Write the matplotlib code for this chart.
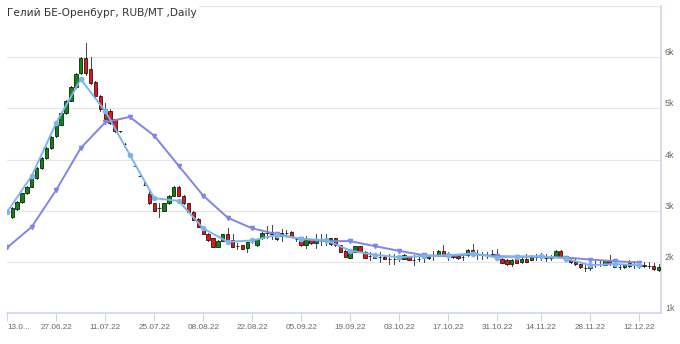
import pandas as pd
import matplotlib
matplotlib.use("Agg")
import matplotlib.pyplot as plt
from matplotlib.patches import Rectangle

# Trading days (13.06.22 .. 16.12.22, 04.11.22 was a holiday)
days = pd.bdate_range("2022-06-13", "2022-12-16")
days = days[days != pd.Timestamp("2022-11-04")]

# Daily candles start on 14.06.22
opens = [2890, 3030, 3180, 3345, 3475, 3640, 3835, 4030, 4230, 4455,
         4685, 4915, 5155, 5420, 5700, 5975, 5765, 5520, 5245, 4980,
         4945, 4785, 4555, 4315, 4100, 3880, 3690, 3510, 3335, 3150,
         3060, 3000, 3150, 3300, 3475, 3300, 3150, 2985, 2845, 2695,
         2560, 2465, 2300, 2420, 2560, 2430, 2320, 2330, 2270, 2415,
         2330, 2465, 2565, 2560, 2565, 2520, 2580, 2595, 2450, 2430,
         2335, 2430, 2380, 2430, 2430, 2355, 2465, 2335, 2220, 2090,
         2205, 2315, 2205, 2120, 2170, 2110, 2110, 2070, 2070, 2070,
         2070, 2120, 2050, 2070, 2075, 2075, 2135, 2135, 2220, 2135,
         2120, 2120, 2100, 2140, 2245, 2170, 2135, 2135, 2135, 2170,
         2070, 2050, 1960, 2070, 2000, 2070, 2050, 2100, 2110, 2090,
         2090, 2105, 2220, 2120, 2040, 2005, 1960, 1880, 1880, 1960,
         1960, 1950, 2040, 1960, 1900, 1900, 1980, 1950, 1940, 1950,
         1930, 1920, 1850]
highs = [3070, 3200, 3360, 3490, 3660, 3850, 4050, 4250, 4460, 4700,
         4930, 5170, 5440, 5700, 6000, 6275, 6000, 5540, 5260, 5100,
         4980, 4800, 4565, 4325, 4110, 3890, 3700, 3560, 3410, 3160,
         3160, 3160, 3310, 3490, 3490, 3310, 3160, 2995, 2855, 2705,
         2570, 2475, 2440, 2560, 2670, 2560, 2380, 2345, 2400, 2480,
         2460, 2590, 2700, 2720, 2580, 2640, 2620, 2610, 2500, 2440,
         2520, 2450, 2560, 2560, 2560, 2470, 2475, 2345, 2230, 2210,
         2325, 2325, 2215, 2200, 2180, 2200, 2120, 2160, 2160, 2130,
         2160, 2130, 2140, 2140, 2140, 2145, 2220, 2230, 2330, 2200,
         2130, 2130, 2150, 2255, 2360, 2230, 2200, 2200, 2230, 2260,
         2080, 2060, 2060, 2140, 2120, 2160, 2150, 2170, 2180, 2160,
         2150, 2230, 2230, 2130, 2100, 2060, 1970, 1950, 1950, 2020,
         2040, 2050, 2150, 1970, 1960, 1970, 2040, 2030, 2020, 2010,
         2000, 1990, 1960]
lows = [2870, 3010, 3160, 3330, 3460, 3620, 3820, 4010, 4210, 4440,
        4670, 4900, 5140, 5400, 5680, 5650, 5480, 5230, 4960, 4700,
        4700, 4540, 4545, 4305, 4090, 3870, 3680, 3500, 3140, 2990,
        2880, 2990, 3140, 3290, 3290, 3140, 2975, 2815, 2680, 2550,
        2420, 2290, 2290, 2410, 2420, 2290, 2250, 2250, 2200, 2370,
        2320, 2455, 2480, 2460, 2440, 2410, 2560, 2490, 2420, 2325,
        2270, 2360, 2280, 2330, 2330, 2340, 2325, 2195, 2095, 2080,
        2195, 2195, 2080, 2040, 2080, 2000, 2060, 1970, 1970, 2020,
        2060, 2040, 1950, 2020, 2010, 2065, 2050, 2125, 2130, 2040,
        2085, 2070, 2050, 2130, 2160, 2060, 2070, 2080, 2125, 2095,
        1980, 1940, 1920, 1980, 1990, 2000, 2040, 2040, 2050, 2030,
        2040, 2095, 2095, 2030, 1990, 1950, 1880, 1830, 1840, 1900,
        1920, 1940, 1950, 1900, 1860, 1880, 1910, 1890, 1890, 1910,
        1880, 1850, 1820]
closes = [3050, 3180, 3345, 3475, 3640, 3835, 4030, 4230, 4445, 4685,
          4915, 5155, 5420, 5680, 5975, 5700, 5500, 5245, 4980, 4785,
          4720, 4555, 4555, 4315, 4100, 3880, 3690, 3510, 3150, 3000,
          3060, 3150, 3300, 3475, 3300, 3150, 2985, 2825, 2695, 2560,
          2430, 2300, 2420, 2545, 2430, 2300, 2320, 2265, 2390, 2420,
          2445, 2575, 2565, 2590, 2445, 2570, 2580, 2495, 2450, 2335,
          2430, 2370, 2440, 2430, 2430, 2465, 2335, 2205, 2105, 2200,
          2315, 2205, 2090, 2120, 2090, 2110, 2070, 2070, 2070, 2070,
          2150, 2050, 2050, 2070, 2075, 2135, 2135, 2220, 2135, 2135,
          2095, 2080, 2100, 2245, 2170, 2170, 2135, 2135, 2170, 2105,
          1990, 1975, 2050, 1990, 2070, 2010, 2110, 2100, 2110, 2090,
          2090, 2220, 2105, 2040, 2000, 1960, 1905, 1880, 1940, 1960,
          1960, 2040, 1960, 1910, 1900, 1960, 1920, 1950, 1940, 1920,
          1930, 1860, 1910]

# Weekly lines, one point per Monday
mondays = ["13.06.22", "20.06.22", "27.06.22", "04.07.22", "11.07.22", "18.07.22",
           "25.07.22", "01.08.22", "08.08.22", "15.08.22", "22.08.22", "29.08.22",
           "05.09.22", "12.09.22", "19.09.22", "26.09.22", "03.10.22", "10.10.22",
           "17.10.22", "24.10.22", "31.10.22", "07.11.22", "14.11.22", "21.11.22",
           "28.11.22", "05.12.22", "12.12.22"]
weekly_close = [2986, 3686, 4720, 5569, 4947, 4098, 3249, 3196, 2661, 2398,
                2425, 2530, 2458, 2431, 2228, 2144, 2098, 2118, 2137, 2170,
                2092, 2110, 2118, 2072, 1941, 1965, 1941]
weekly_avg = [2288, 2691, 3411, 4228, 4730, 4836, 4469, 3881, 3300, 2869,
              2661, 2549, 2451, 2412, 2412, 2314, 2222, 2137, 2118, 2157,
              2118, 2110, 2104, 2092, 2053, 2020, 1994]

tick_dates = ["13.06.22", "27.06.22", "11.07.22", "25.07.22", "08.08.22",
              "22.08.22", "05.09.22", "19.09.22", "03.10.22", "17.10.22",
              "31.10.22", "14.11.22", "28.11.22", "12.12.22"]
tick_labels = ["13.0..."] + tick_dates[1:]
y_ticks = [1000, 2000, 3000, 4000, 5000, 6000, 7000]
y_labels = ["1k", "2k", "3k", "4k", "5k", "6k", ""]

day_index = {d.strftime("%d.%m.%y"): i for i, d in enumerate(days)}

fig = plt.figure(figsize=(6.8, 3.44), dpi=100)
ax = fig.add_axes([0.0107, 0.0887, 0.9609, 0.894])

for k in range(len(opens)):
    x = k + 1
    o, h, l, c = opens[k], highs[k], lows[k], closes[k]
    ax.plot([x, x], [l, h], color="#444444", lw=0.7, zorder=2)
    face = "#0a8a0a" if c > o else ("#ee1111" if c < o else "black")
    ax.add_patch(Rectangle((x - 0.34, min(o, c)), 0.68, abs(c - o),
                           facecolor=face, edgecolor="black", lw=0.5, zorder=3))

wx = [day_index[d] for d in mondays]
ax.plot(wx, weekly_avg, color="#8085e9", lw=1.4, marker="v", ms=3.0, zorder=4)
ax.plot(wx, weekly_close, color="#7cb5ec", lw=1.4, marker="o", ms=3.0, zorder=5)

ax.set_xlim(0, 133.4)
ax.set_ylim(1000, 7000)
ax.set_xticks([day_index[d] for d in tick_dates])
ax.set_xticklabels(tick_labels, fontsize=5.9, color="#666666", family="Liberation Sans")
ax.get_xticklabels()[0].set_ha("left")
ax.tick_params(axis="x", direction="out", length=5.5, width=0.8, color="#ccd6eb", pad=2)

ax.yaxis.tick_right()
ax.set_yticks(y_ticks)
ax.set_yticklabels(y_labels, fontsize=6.4, color="#666666", family="Liberation Sans")
for lab in ax.get_yticklabels():
    lab.set_va("bottom")
ax.tick_params(axis="y", length=0, pad=3)
ax.grid(axis="y", color="#e6e6e6", lw=0.8, zorder=0)
ax.set_axisbelow(True)

for side in ["left", "top"]:
    ax.spines[side].set_visible(False)
for side in ["right", "bottom"]:
    ax.spines[side].set_color("#ccd6eb")
    ax.spines[side].set_linewidth(1.2)

fig.text(0.011, 0.962, "Гелий БЕ-Оренбург, RUB/MT ,Daily", fontsize=7.6, color="#333333",
         va="center", ha="left", bbox=dict(facecolor="white", edgecolor="none", pad=1.5))

fig.savefig("out.png", dpi=100)
